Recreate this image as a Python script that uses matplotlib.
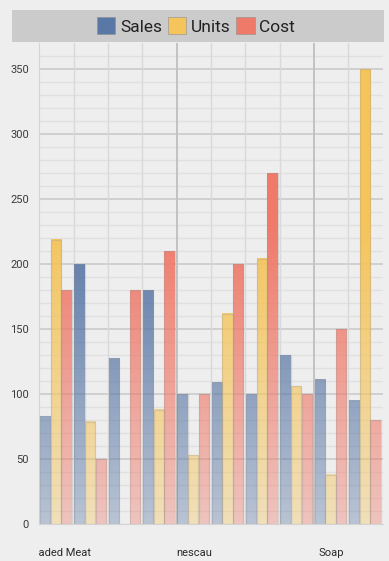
import numpy as np
import matplotlib
matplotlib.use("Agg")
import matplotlib.pyplot as plt
from matplotlib.patches import Patch, Rectangle
from matplotlib.transforms import Bbox, TransformedBbox

plt.rcParams['font.family'] = ['Roboto', 'DejaVu Sans']

# --- data ---
series = ['Sales', 'Units', 'Cost']
tick_labels = ['Breaded Meat', '', '', '', 'nescau', '', '', '', 'Soap', '']
sales = [83, 200, 127, 180, 100, 109, 100, 130, 111, 95]
units = [219, 79, 0, 88, 53, 162, 204, 106, 38, 350]
cost = [180, 50, 180, 210, 100, 200, 270, 100, 150, 80]
colors = ['#5a78a6', '#f5c55c', '#f07a6a']

W, H = 389, 561
BG = '#eeeeee'
fig = plt.figure(figsize=(W / 100, H / 100), dpi=100, facecolor=BG)

# axes placed in pixel terms
left, right, bottom_px, top_px = 39.3, 382.7, 524.3, 43.3
ax = fig.add_axes([left / W, (H - bottom_px) / H, (right - left) / W, (bottom_px - top_px) / H])
ax.set_facecolor(BG)
ymax = 370

# grid
for y in range(10, ymax, 10):
    if y % 50:
        ax.axhline(y, color='#e0e0e0', lw=1, zorder=0)
for y in range(50, ymax, 50):
    ax.axhline(y, color='#c8c8c8', lw=1.1, zorder=0.5)
for x in range(1, 10):
    if x % 4:
        ax.axvline(x, color='#d9d9d9', lw=1, zorder=0.5)
    else:
        ax.axvline(x, color='#c2c2c2', lw=1.4, zorder=0.5)

# gradient bars
bar_w = 0.30
offsets = [0.02, 0.33, 0.64]
n = len(sales)
grad_n = 256
for j, vals in enumerate([sales, units, cost]):
    rgb = np.array(matplotlib.colors.to_rgb(colors[j]))
    xs = np.arange(n) + offsets[j]
    ax.bar(xs, vals, width=bar_w, align='edge', facecolor='none',
           edgecolor='#9a9a9a', linewidth=0.9, alpha=0.3, zorder=3)
    for x0, v in zip(xs, vals):
        if v <= 0:
            continue
        yy = np.linspace(0, v, grad_n)
        a = 0.36 + 0.64 * np.clip(yy / 230.0, 0, 1)
        img = np.zeros((grad_n, 1, 4))
        img[:, 0, :3] = rgb
        img[:, 0, 3] = a
        ax.imshow(img, extent=(x0, x0 + bar_w, 0, v), origin='lower',
                  aspect='auto', interpolation='bilinear', zorder=2)
ax.set_xlim(0, 10)
ax.set_ylim(0, ymax)

# ticks
ax.set_yticks(range(0, ymax, 50))
ax.tick_params(axis='y', length=0, pad=7.5, labelsize=8, labelcolor='#3a3a3a')
ax.set_xticks(np.arange(n) + 0.5)
ax.set_xticklabels(tick_labels)
ax.tick_params(axis='x', length=0, pad=17, labelsize=8, labelcolor='#2a2a2a')
clip = TransformedBbox(Bbox.from_extents(0, -0.2, 1.2, 1.0), ax.transAxes)
for lab in ax.get_xticklabels():
    lab.set_clip_on(True)
    lab.set_clip_box(clip)

for side in ['top', 'right']:
    ax.spines[side].set_visible(False)
ax.spines['left'].set_color('#d3d3d3')
ax.spines['bottom'].set_color('#d3d3d3')

# legend bar
fig.add_artist(Rectangle((12.3 / W, 1 - 41.7 / H), (384 - 12.3) / W, 31.7 / H,
                         transform=fig.transFigure, facecolor='#cbcbcb',
                         edgecolor='none', zorder=0))
handles = [Patch(facecolor=c, edgecolor='#8f8f8f', linewidth=0.4) for c in colors]
fig.legend(handles, series, loc='center', bbox_to_anchor=(196 / W, 1 - 26 / H),
           ncol=3, frameon=False, fontsize=12.5, handlelength=1.07, handleheight=1.07,
           handletextpad=0.28, columnspacing=0.3, labelcolor='#222222',
           borderpad=0, borderaxespad=0)

fig.savefig('out.png', dpi=100, facecolor=BG)
